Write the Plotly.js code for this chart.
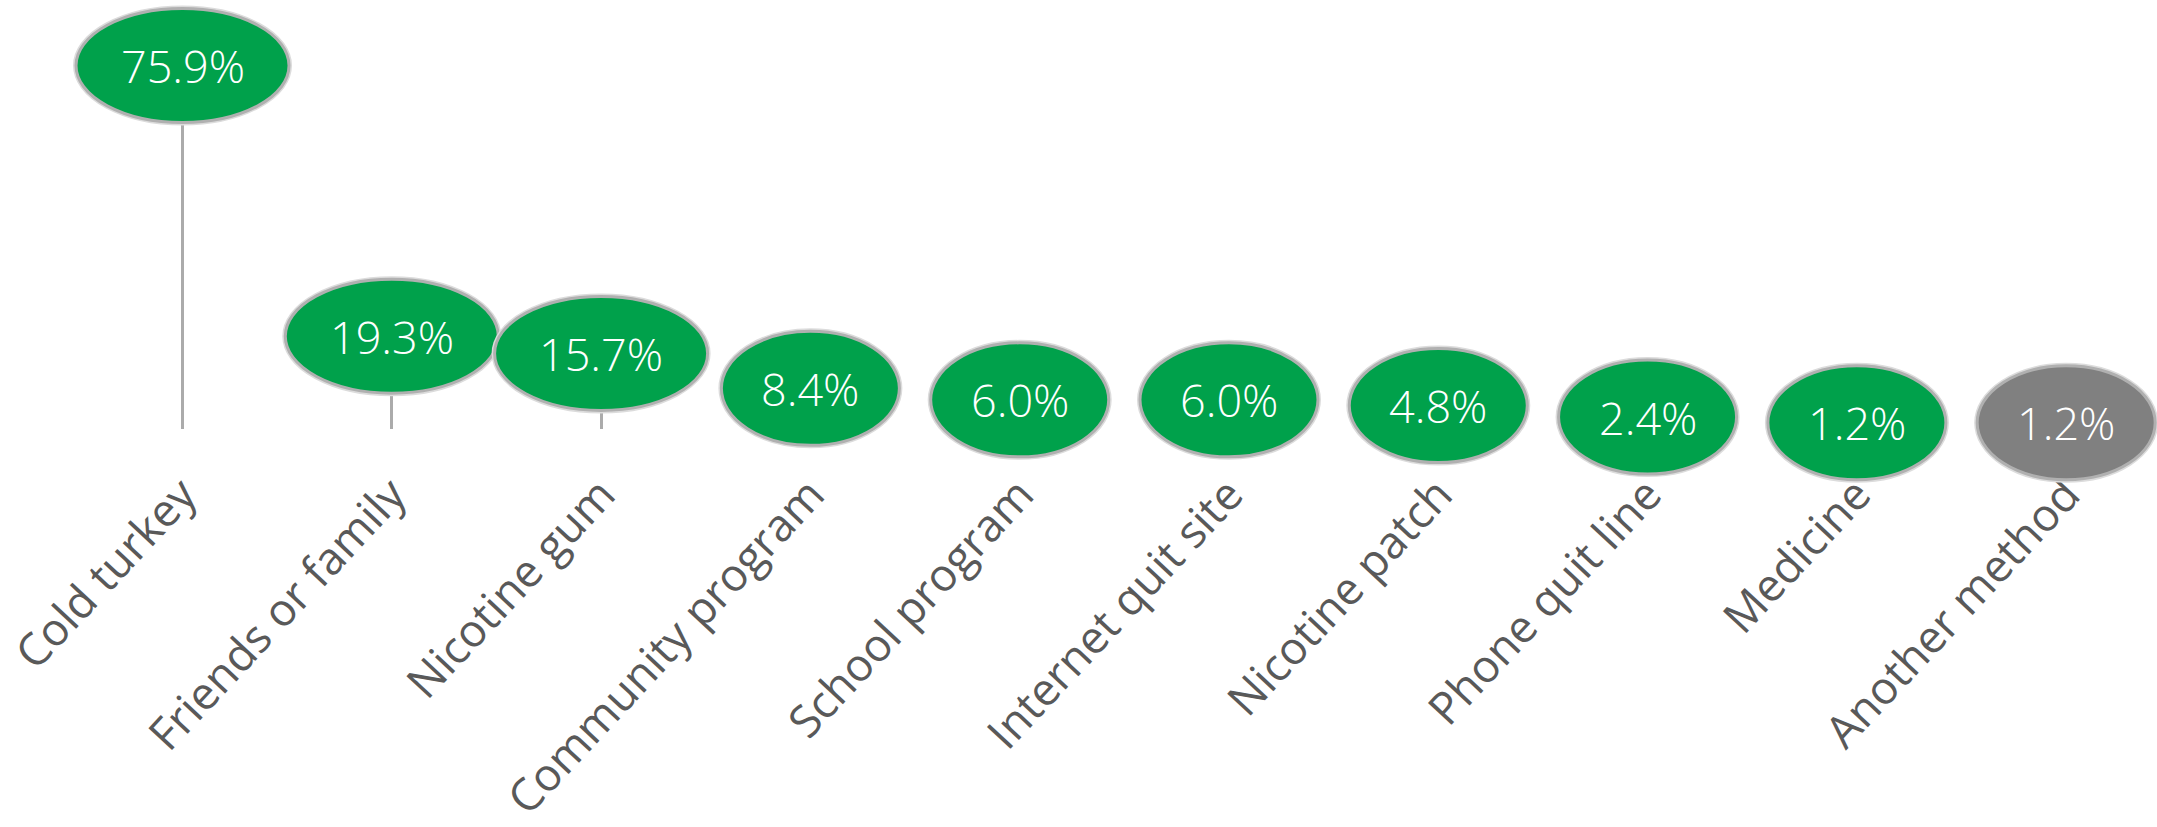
<!DOCTYPE html>
<html>
<head>
<meta charset="utf-8">
<script src="https://cdn.plot.ly/plotly-3.0.1.min.js"></script>
<style>
  html, body { margin: 0; padding: 0; background: #ffffff; }
  #chart { width: 2157px; height: 827px; }
</style>
</head>
<body>
<div id="chart"></div>
<script>
// ---- Data ----
const methods = [
  "Cold turkey", "Friends or family", "Nicotine gum", "Community program",
  "School program", "Internet quit site", "Nicotine patch", "Phone quit line",
  "Medicine", "Another method"
];
const percents = [75.9, 19.3, 15.7, 8.4, 6.0, 6.0, 4.8, 2.4, 1.2, 1.2];
const valueLabels = ["75.9%", "19.3%", "15.7%", "8.4%", "6.0%", "6.0%", "4.8%", "2.4%", "1.2%", "1.2%"];
const bubbleColors = ["#00a14b", "#00a14b", "#00a14b", "#00a14b", "#00a14b",
                      "#00a14b", "#00a14b", "#00a14b", "#00a14b", "#808080"];

// ---- Styles ----
const FONT = "'Open Sans', 'Noto Sans', 'DejaVu Sans', sans-serif";
const stemColor = "#ababab";
const bubbleH = 114;

const stems = {
  type: "bar",
  x: methods,
  y: percents,
  width: 0.0145,
  marker: { color: stemColor, line: { width: 0 } },
  hoverinfo: "skip",
  showlegend: false
};

const shapes = [];
methods.forEach((m, i) => {
  const w = 38 + 35 * valueLabels[i].length;
  // soft outer halo
  shapes.push({
    type: "circle", xref: "x", yref: "y",
    xsizemode: "pixel", ysizemode: "pixel",
    xanchor: i, yanchor: percents[i],
    x0: -w / 2 - 1.5, x1: w / 2 + 1.5, y0: -bubbleH / 2 - 1.5, y1: bubbleH / 2 + 1.5,
    line: { color: "#dcdcdc", width: 3 },
    fillcolor: "rgba(0,0,0,0)",
    layer: "above"
  });
  shapes.push({
    type: "circle", xref: "x", yref: "y",
    xsizemode: "pixel", ysizemode: "pixel",
    xanchor: i, yanchor: percents[i],
    x0: -w / 2, x1: w / 2, y0: -bubbleH / 2, y1: bubbleH / 2,
    line: { color: "#b0b0b0", width: 3 },
    fillcolor: bubbleColors[i],
    layer: "above"
  });
});

const annotations = methods.map((m, i) => ({
  x: i, y: percents[i], xref: "x", yref: "y",
  text: valueLabels[i],
  showarrow: false,
  xanchor: "center", yanchor: "middle",
  font: { family: FONT, size: 45, color: "#ffffff", weight: 300 }
}));

const layout = {
  width: 2157,
  height: 827,
  margin: { l: 0, r: 0, t: 0, b: 250, pad: 0 },
  paper_bgcolor: "#ffffff",
  plot_bgcolor: "#ffffff",
  showlegend: false,
  bargap: 0,
  xaxis: {
    type: "category",
    range: [-0.872, 9.434],
    anchor: "free",
    position: 0.2842,
    showgrid: false,
    zeroline: false,
    showline: false,
    ticks: "",
    tickangle: -47,
    ticklabelstandoff: 45,
    tickfont: { family: FONT, size: 45, color: "#595959" },
    fixedrange: true
  },
  yaxis: {
    range: [-31.04, 89.6],
    showgrid: false,
    zeroline: false,
    showline: false,
    showticklabels: false,
    ticks: "",
    fixedrange: true
  },
  shapes: shapes,
  annotations: annotations
};

Plotly.newPlot("chart", [stems], layout, { displayModeBar: false, staticPlot: true });
</script>
</body>
</html>
